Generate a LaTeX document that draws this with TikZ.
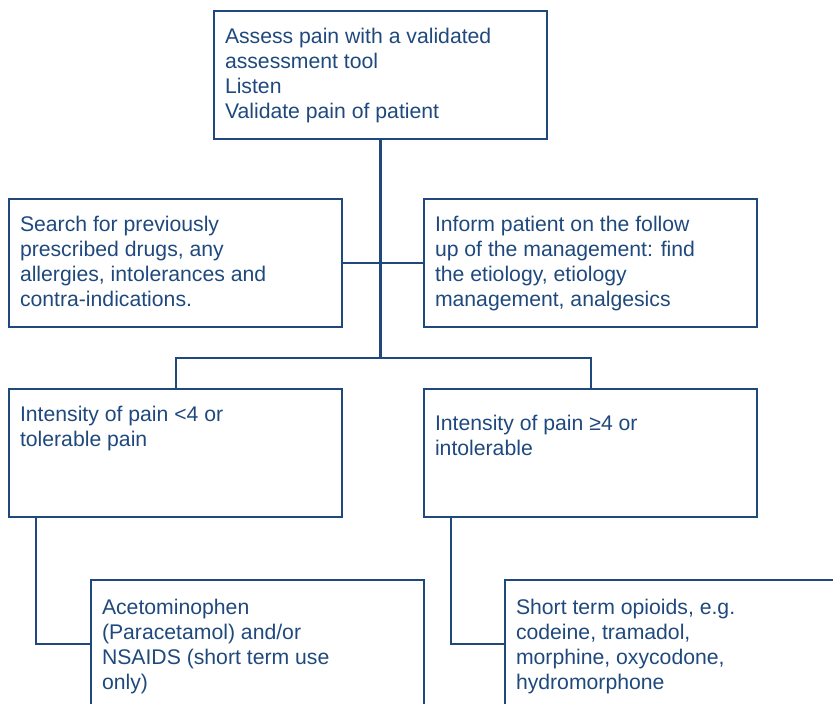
\documentclass[tikz,border=0pt]{standalone}
\usepackage{fontspec}
\setmainfont{Liberation Sans}
\usepackage{tikz}
\usepackage{xcolor}
\definecolor{flowblue}{RGB}{31,73,125}

% text of a box: top aligned, first baseline at #1 below the top edge
\newcommand{\boxtxt}[2][16pt]{\parbox[c][64pt][t]{155.5pt}{\raggedright\rule{0pt}{#1}#2}}

\begin{document}
\begin{tikzpicture}[
        x=0.5pt, y=-0.5pt,
        box/.style={rectangle, draw=flowblue, line width=1pt, anchor=north west,
          inner xsep=5.5pt, inner ysep=0pt, text=flowblue,
          font=\fontsize{10.6pt}{12.5pt}\selectfont},
        trunk/.style={-, draw=flowblue, line width=1.75pt},
        link/.style={-, draw=flowblue, line width=1pt}
      ]
      \useasboundingbox (0,0) rectangle (833,703);

      % Assessment
      \node[box] (assess) at (213,10) {\boxtxt{Assess pain with a validated\\ assessment tool\\ Listen\\ Validate pain of patient}};

      % History and information
      \node[box] (search) at (8,198) {\boxtxt{Search for previously\\ prescribed drugs, any\\ allergies, intolerances and\\ contra-indications.}};
      \node[box] (inform) at (423,198) {\boxtxt{Inform patient on the follow\\ up of the management: find\\ the etiology, etiology\\ management, analgesics}};

      % Intensity of pain
      \node[box] (mild) at (8,388) {\boxtxt{Intensity of pain <4 or\\ tolerable pain}};
      \node[box] (severe) at (423,388) {\boxtxt[20.5pt]{Intensity of pain ≥4 or\\ intolerable}};

      % Treatment
      \node[box] (acet) at (90,579) {\boxtxt[17pt]{Acetominophen\\ (Paracetamol) and/or\\ NSAIDS (short term use\\ only)}};
      \node[box] (opioid) at (504,579) {\boxtxt[17pt]{Short term opioids, e.g.\\ codeine, tramadol,\\ morphine, oxycodone,\\ hydromorphone}};

      % Connections
      \coordinate (fork) at (assess.south |- 0,358);
      \draw[trunk] (assess.south) -- (fork);
      \draw[link] (search.east) -- (inform.west);
      \draw[link] (mild.north) |- (fork) -| (severe.north);
      \draw[link] ([xshift=14pt]mild.south west) |- (acet.west);
      \draw[link] ([xshift=14pt]severe.south west) |- (opioid.west);

    \end{tikzpicture}
\end{document}
